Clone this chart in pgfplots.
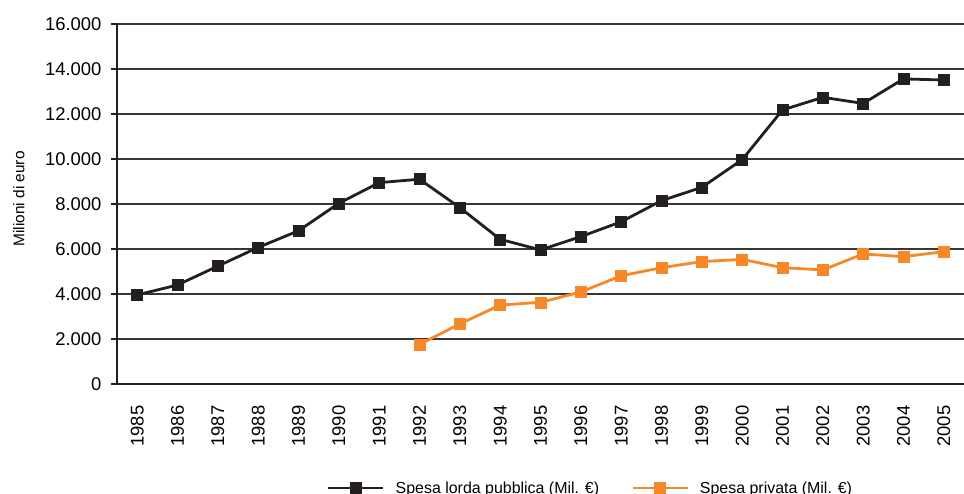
\documentclass[border=0pt]{standalone}
\usepackage{pgfplots}
\pgfplotsset{compat=1.18}
\usepackage{fontspec}
\setmainfont{Liberation Sans}
\definecolor{cblack}{RGB}{35,31,32}
\definecolor{corange}{RGB}{246,136,40}
\definecolor{cgrid}{RGB}{55,55,55}
\begin{document}
\begin{tikzpicture}
\useasboundingbox (0,0) rectangle (964bp,494bp);
\clip (0,0) rectangle (964bp,494bp);
\begin{axis}[
  at={(117bp,110bp)}, anchor=south west,
  scale only axis, width=847bp, height=360bp,
  xmin=-0.5, xmax=20.5, ymin=0, ymax=16000,
  axis x line*=bottom, axis y line*=left,
  axis line style={line width=2.4bp, color=cblack, -},
  tick align=outside,
  major tick length=6bp, minor tick length=12bp,
  xtick={0,...,20},
  xticklabels={1985,1986,1987,1988,1989,1990,1991,1992,1993,1994,1995,1996,1997,1998,1999,2000,2001,2002,2003,2004,2005},
  xtick style={draw=none},
  minor xtick={-0.5,0.5,...,20.5},
  minor tick style={line width=2.2bp, color=cblack},
  ytick={0,2000,...,16000},
  scaled y ticks=false,
  ytick style={line width=2bp, color=cblack},
  ymajorgrids,
  major grid style={line width=1.1bp, color=cgrid},
  xticklabel style={rotate=90, anchor=east, font=\fontsize{18.5}{20}\selectfont},
  yticklabel style={font=\fontsize{18.5}{20}\selectfont},
  xticklabel shift=12bp,
  yticklabel shift=6bp,
  /pgf/number format/.cd, 1000 sep={.}, assume math mode=true,
  /pgfplots/.cd,
  ylabel={Milioni di euro},
  every axis y label/.style={at={(axis description cs:-0.105,0.514)}, anchor=south, rotate=90, font=\fontsize{15.5}{17}\selectfont},
  legend columns=2,
  legend style={at={(axis description cs:0.5,0)}, anchor=center, xshift=50bp, yshift=-104bp, draw=none, fill=none, font=\fontsize{16}{18}\selectfont, /tikz/every even column/.append style={column sep=30bp}},
  legend image code/.code={\draw[mark repeat=2,mark phase=2,#1] plot coordinates {(0bp,0bp) (27.5bp,0bp) (55bp,0bp)}; \path (64bp,0bp);},
  clip=false,
]
\addplot[color=cblack, line width=2.8bp, mark=square*, mark size=5.5bp, mark options={solid, fill=cblack, line width=0.5bp}] coordinates {
(0,3960) (1,4400) (2,5240) (3,6070) (4,6810) (5,8030) (6,8950) (7,9100) (8,7840) (9,6430) (10,5960) (11,6550) (12,7210) (13,8150) (14,8740) (15,9970) (16,12180) (17,12740) (18,12470) (19,13560) (20,13510)};
\addlegendentry{Spesa lorda pubblica (Mil. €)}
\addplot[color=corange, line width=2.8bp, mark=square*, mark size=5.5bp, mark options={solid, fill=corange, line width=0.5bp}] coordinates {
(7,1760) (8,2670) (9,3510) (10,3630) (11,4090) (12,4810) (13,5170) (14,5440) (15,5540) (16,5170) (17,5070) (18,5780) (19,5660) (20,5880)};
\addlegendentry{Spesa privata (Mil. €)}
\end{axis}
\end{tikzpicture}
\end{document}
